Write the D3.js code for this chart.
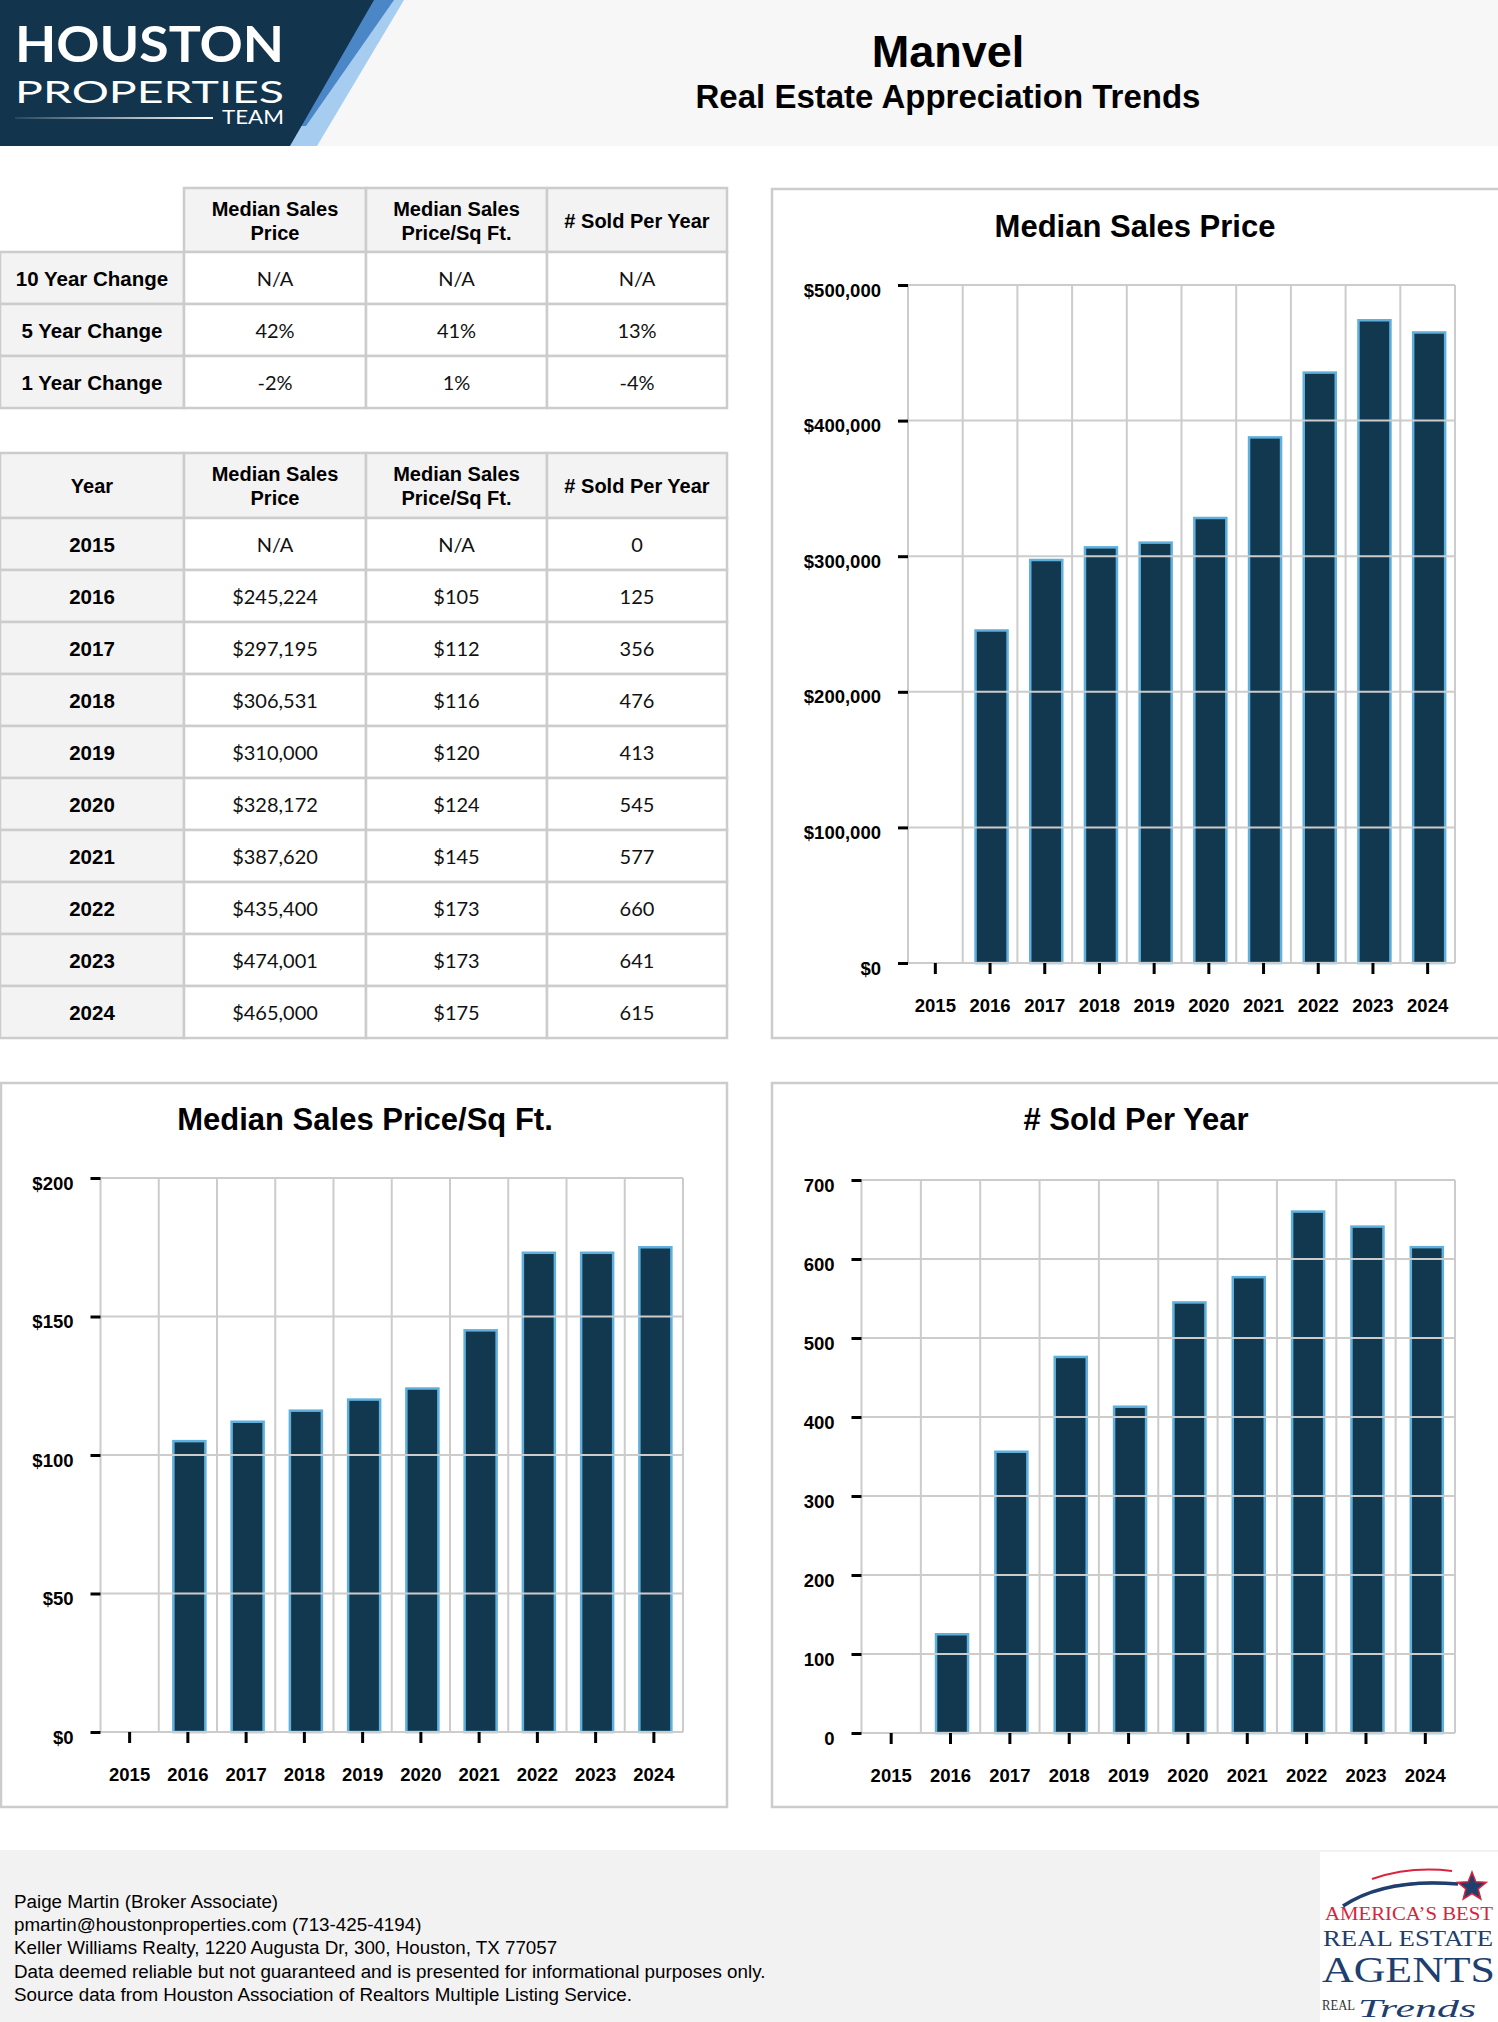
<!DOCTYPE html>
<html><head><meta charset="utf-8">
<script src="https://cdn.jsdelivr.net/npm/d3@7"></script>
<style>html,body{margin:0;padding:0;background:#fff;} svg{display:block;}</style>
</head><body><svg id="page" width="1498" height="2022"></svg>
<script>
// ---------------- DATA ----------------
const years = ["2015","2016","2017","2018","2019","2020","2021","2022","2023","2024"];
const medianPrice = [null,245224,297195,306531,310000,328172,387620,435400,474001,465000];
const pricePerSqft = [null,105,112,116,120,124,145,173,173,175];
const soldPerYear = [0,125,356,476,413,545,577,660,641,615];

const changeLabels = ["10 Year Change","5 Year Change","1 Year Change"];
const changePrice = ["N/A","42%","-2%"];
const changeSqft  = ["N/A","41%","1%"];
const changeSold  = ["N/A","13%","-4%"];

const priceTicks = [0,100000,200000,300000,400000,500000];
const sqftTicks  = [0,50,100,150,200];
const soldTicks  = [0,100,200,300,400,500,600,700];

const footerLines = [
  "Paige Martin (Broker Associate)",
  "pmartin@houstonproperties.com (713-425-4194)",
  "Keller Williams Realty, 1220 Augusta Dr, 300, Houston, TX 77057",
  "Data deemed reliable but not guaranteed and is presented for informational purposes only.",
  "Source data from Houston Association of Realtors Multiple Listing Service."
];

// ---------------- STYLE ----------------
const AR = "'Liberation Sans', Arial, Helvetica, sans-serif";
const LATO = "Lato, 'Liberation Sans', sans-serif";
const SERIF = "'Liberation Serif', 'DejaVu Serif', serif";
const BAR_FILL = "#12384f";
const BAR_STROKE = "#5fb0dc";
const GRID = "#cccccc";
const CELL_GRAY = "#f3f3f3";

const svg = d3.select("#page");

function text(g, s, x, y, o) {
  const t = g.append("text").attr("x", x).attr("y", y).text(s)
    .attr("font-family", o.f || AR).attr("font-size", o.size)
    .attr("font-weight", o.w || "normal").attr("fill", o.fill || "#000")
    .attr("text-anchor", o.a || "start");
  if (o.len) t.attr("textLength", o.len).attr("lengthAdjust", "spacingAndGlyphs");
  if (o.style) t.attr("font-style", o.style);
  if (o.ls) t.attr("letter-spacing", o.ls);
  return t;
}

// ---------------- HEADER ----------------
const hdr = svg.append("g");
hdr.append("rect").attr("x",0).attr("y",0).attr("width",1498).attr("height",146).attr("fill","#f7f7f7");
hdr.append("polygon").attr("points","368,0 404,0 317,146 290,146").attr("fill","#a6cdf0");
hdr.append("polygon").attr("points","368,0 394,0 306,126 296,126").attr("fill","#4b86c6");
hdr.append("polygon").attr("points","0,0 374,0 290,146 0,146").attr("fill","#12344d");
const lg = hdr.append("defs").append("linearGradient").attr("id","lineGrad");
lg.append("stop").attr("offset","0").attr("stop-color","#ffffff").attr("stop-opacity",0.1);
lg.append("stop").attr("offset","1").attr("stop-color","#ffffff").attr("stop-opacity",1);
hdr.append("rect").attr("x",15).attr("y",117).attr("width",198).attr("height",2).attr("fill","url(#lineGrad)");
text(hdr, "HOUSTON", 15, 62, {size:50, w:"bold", f:LATO, fill:"#fff", len:269});
text(hdr, "PROPERTIES", 15, 103, {size:30, w:"normal", f:LATO, fill:"#fff", len:269});
text(hdr, "TEAM", 222, 124, {size:19, w:"normal", f:LATO, fill:"#fff", len:62});
text(hdr, "Manvel", 948, 67, {size:45, w:"bold", a:"middle"});
text(hdr, "Real Estate Appreciation Trends", 948, 108, {size:33, w:"bold", a:"middle"});

// ---------------- TABLES ----------------
const colX = [0,184,366,547,727];
function drawTable(rowsY, headerCells, bodyRows, skipTopLeft) {
  const g = svg.append("g");
  const nRows = rowsY.length - 1;
  for (let r = 0; r < nRows; r++) {
    for (let c = 0; c < 4; c++) {
      if (skipTopLeft && r === 0 && c === 0) continue;
      const gray = (r === 0 || c === 0);
      g.append("rect").attr("x", colX[c]).attr("y", rowsY[r])
        .attr("width", colX[c+1]-colX[c]).attr("height", rowsY[r+1]-rowsY[r])
        .attr("fill", gray ? CELL_GRAY : "#fff")
        .attr("stroke", GRID).attr("stroke-width", 2.5);
    }
  }
  headerCells.forEach((lines, c) => {
    const cx = (colX[c]+colX[c+1])/2, cy = (rowsY[0]+rowsY[1])/2;
    const n = lines.length;
    lines.forEach((ln, i) => {
      const yy = cy + (i - (n-1)/2) * 24 + 7.5;
      text(g, ln, cx, yy, {size:20, w:"bold", a:"middle"});
    });
  });
  bodyRows.forEach((row, r) => {
    const cy = (rowsY[r+1]+rowsY[r+2])/2;
    row.forEach((val, c) => {
      const cx = (colX[c]+colX[c+1])/2;
      if (c === 0) text(g, val, cx, cy+7.5, {size:20.5, w:"bold", a:"middle"});
      else text(g, val, cx, cy+7.5, {size:20, f:LATO, a:"middle", fill:"#111"});
    });
  });
}

const fmtPrice = v => v == null ? "N/A" : d3.format("$,")(v);
const fmtSqft = v => v == null ? "N/A" : "$" + v;

drawTable([188,252,304,356,408],
  [[], ["Median Sales","Price"], ["Median Sales","Price/Sq Ft."], ["# Sold Per Year"]],
  changeLabels.map((l,i) => [l, changePrice[i], changeSqft[i], changeSold[i]]), true);

drawTable([453].concat(d3.range(11).map(i => 518 + 52*i)),
  [["Year"], ["Median Sales","Price"], ["Median Sales","Price/Sq Ft."], ["# Sold Per Year"]],
  years.map((y,i) => [y, fmtPrice(medianPrice[i]), fmtSqft(pricePerSqft[i]), String(soldPerYear[i])]), false);

// ---------------- CHARTS ----------------
function drawChart(cfg) {
  const g = svg.append("g");
  g.append("rect").attr("x", cfg.box[0]).attr("y", cfg.box[1]).attr("width", cfg.box[2]).attr("height", cfg.box[3])
    .attr("fill", "#fff").attr("stroke", GRID).attr("stroke-width", 2.5);
  text(g, cfg.title, cfg.titleX, cfg.titleY, {size:31, w:"bold", a:"middle"});

  const x = d3.scaleBand().domain(years).range([cfg.x0, cfg.x1]).padding(0);
  const y = d3.scaleLinear().domain([0, cfg.max]).range([cfg.y1, cfg.y0]);
  const data = years.map((yr, i) => ({yr, v: cfg.values[i]})).filter(d => d.v != null && d.v > 0);
  const bw = 32;

  g.selectAll("rect.bar").data(data).enter().append("rect").attr("class","bar")
    .attr("x", d => x(d.yr) + x.bandwidth()/2 - bw/2 + 1.5)
    .attr("y", d => y(d.v))
    .attr("width", bw)
    .attr("height", d => y(0) - y(d.v))
    .attr("fill", BAR_FILL).attr("stroke", BAR_STROKE).attr("stroke-width", 2.5);

  g.selectAll("line.hg").data(cfg.ticks).enter().append("line")
    .attr("x1", cfg.x0).attr("x2", cfg.x1).attr("y1", d => y(d)).attr("y2", d => y(d))
    .attr("stroke", GRID).attr("stroke-width", 2);
  const bounds = years.map(yr => x(yr)).concat([cfg.x1]);
  g.selectAll("line.vg").data(bounds).enter().append("line")
    .attr("x1", d => d).attr("x2", d => d).attr("y1", cfg.y0).attr("y2", cfg.y1)
    .attr("stroke", GRID).attr("stroke-width", 2);

  const ya = g.append("g").attr("transform", `translate(${cfg.x0},0)`)
    .call(d3.axisLeft(y).tickValues(cfg.ticks).tickFormat(cfg.fmt).tickSize(10).tickPadding(17));
  ya.select(".domain").remove();
  ya.selectAll(".tick line").attr("stroke", "#000").attr("stroke-width", 3);
  ya.selectAll(".tick text").attr("font-family", AR).attr("font-size", 18.5).attr("font-weight", "bold")
    .attr("fill", "#000").attr("dy", "0.6em");

  const xa = g.append("g").attr("transform", `translate(0,${cfg.y1})`)
    .call(d3.axisBottom(x).tickSize(11).tickPadding(25));
  xa.select(".domain").remove();
  xa.selectAll(".tick line").attr("stroke", "#000").attr("stroke-width", 3);
  xa.selectAll(".tick text").attr("font-family", AR).attr("font-size", 18.5).attr("font-weight", "bold")
    .attr("fill", "#000");
}

drawChart({box:[772,189,760,849], title:"Median Sales Price", titleX:1135, titleY:237,
  x0:908, x1:1455, y0:285, y1:963, max:500000, ticks:priceTicks, fmt:d3.format("$,"), values:medianPrice});
drawChart({box:[1,1083,726,724], title:"Median Sales Price/Sq Ft.", titleX:365, titleY:1130,
  x0:100.5, x1:683, y0:1178, y1:1732, max:200, ticks:sqftTicks, fmt:d => "$" + d, values:pricePerSqft});
drawChart({box:[772,1083,760,724], title:"# Sold Per Year", titleX:1136, titleY:1130,
  x0:861.5, x1:1455, y0:1180, y1:1733, max:700, ticks:soldTicks, fmt:d => String(d), values:soldPerYear});

// ---------------- FOOTER ----------------
const ft = svg.append("g");
ft.append("rect").attr("x",0).attr("y",1850).attr("width",1498).attr("height",172).attr("fill","#f2f2f2");
footerLines.forEach((ln, i) => text(ft, ln, 14, 1908 + i*23.2, {size:18.8}));

ft.append("rect").attr("x",1320).attr("y",1852).attr("width",178).attr("height",170).attr("fill","#fff");
ft.append("path").attr("d","M1372,1879 Q1410,1866 1452,1871").attr("fill","none").attr("stroke","#d9243c").attr("stroke-width",2);
ft.append("path").attr("d","M1392,1886 Q1425,1880 1458,1884").attr("fill","none").attr("stroke","#d9243c").attr("stroke-width",2);
ft.append("path").attr("d","M1343,1906 Q1385,1878 1458,1884").attr("fill","none").attr("stroke","#1f3f6e").attr("stroke-width",3.5);
const starPts = d3.range(10).map(i => {
  const a = -Math.PI/2 + i*Math.PI/5, r = i%2 ? 6.5 : 15;
  return [1472 + r*Math.cos(a), 1887 + r*Math.sin(a)].join(",");
}).join(" ");
ft.append("polygon").attr("points", starPts).attr("fill","#1f3f6e").attr("stroke","#d9243c").attr("stroke-width",1.5);
text(ft, "AMERICA\u2019S BEST", 1325, 1920, {size:19, f:SERIF, fill:"#d9243c", len:168});
text(ft, "REAL ESTATE", 1323, 1946, {size:23, f:SERIF, fill:"#1f3f6e", len:170});
text(ft, "AGENTS", 1322, 1982, {size:36, f:SERIF, fill:"#1f3f6e", len:173});
text(ft, "REAL", 1322, 2010, {size:14, f:SERIF, fill:"#333", len:33});
text(ft, "Trends", 1358, 2017, {size:26, f:SERIF, style:"italic", fill:"#1f3f6e", len:118});
</script>
</body></html>
